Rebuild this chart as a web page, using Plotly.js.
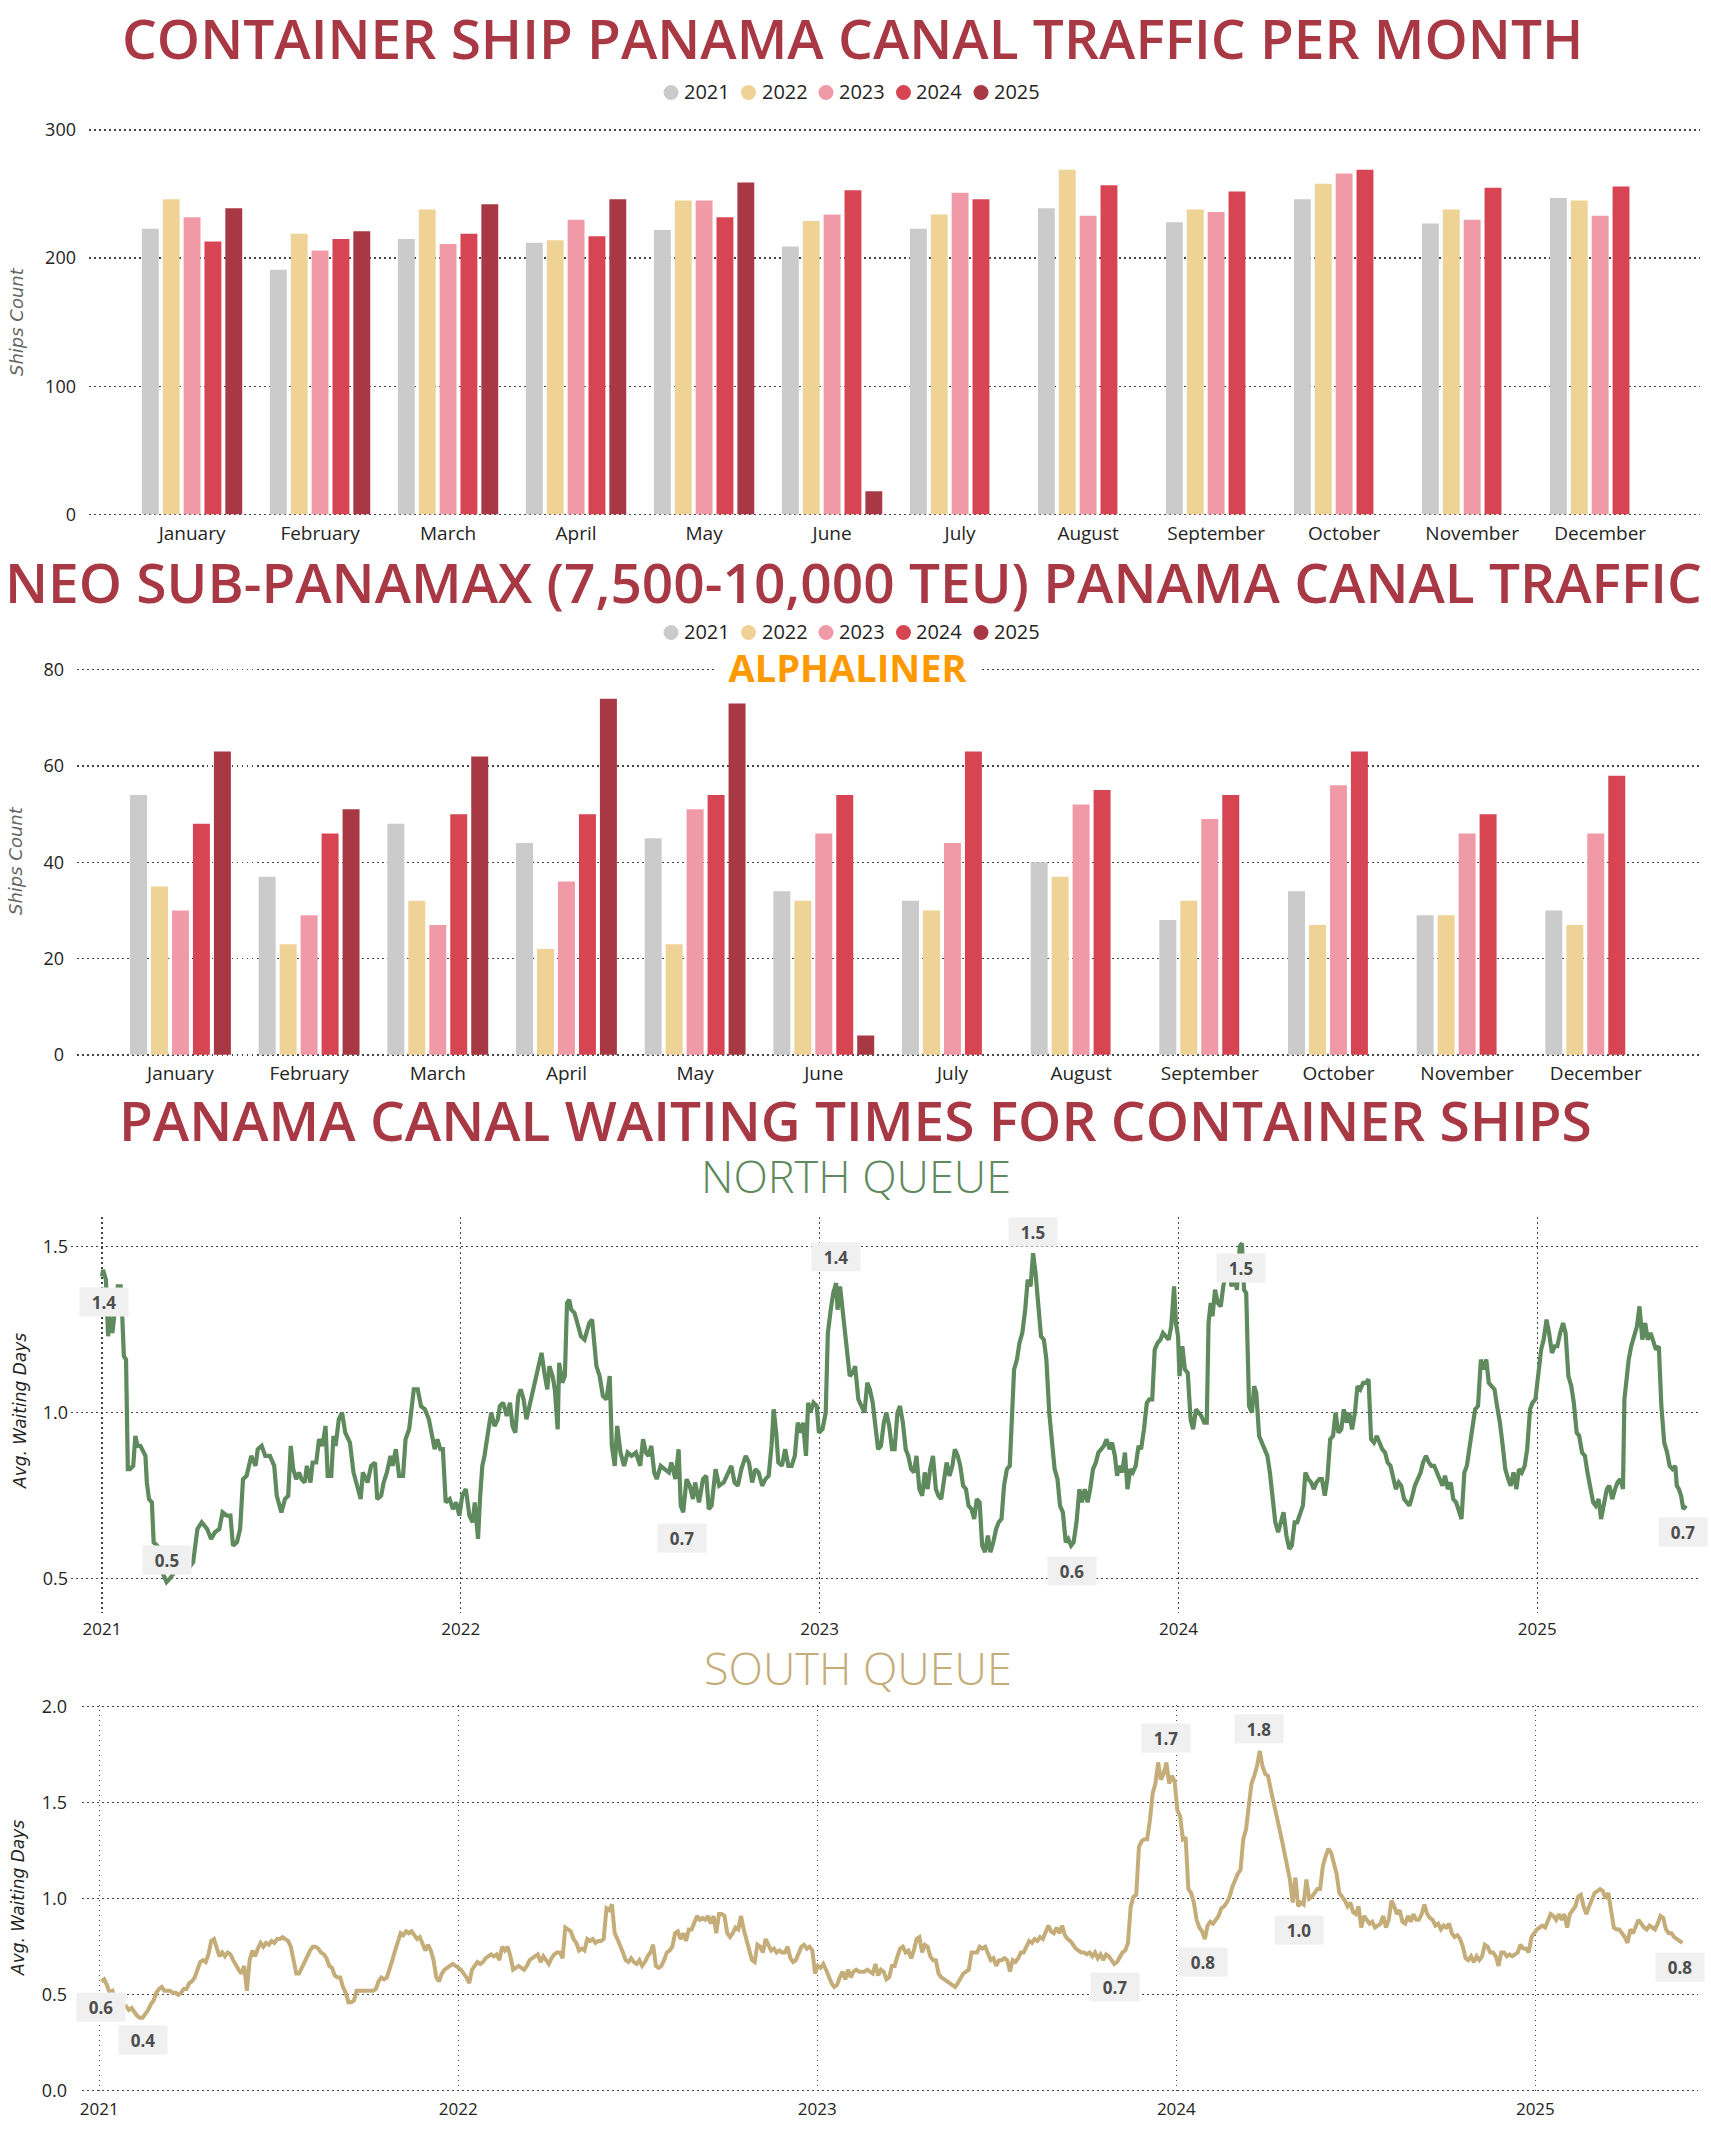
<!DOCTYPE html>
<html><head><meta charset="utf-8">
<script src="https://cdn.plot.ly/plotly-3.0.1.min.js"></script>
<style>html,body{margin:0;padding:0;background:#fff}#chart{width:1711px;height:2136px}</style>
</head><body><div id="chart"></div>
<script>
// ---------- DATA ----------
const months = ['January','February','March','April','May','June','July','August','September','October','November','December'];
const years = ['2021','2022','2023','2024','2025'];
const yearColors = ['#CBCBCB','#EFD296','#F09AA7','#D74553','#A83843'];

// Container ship transits per month
const ships2021 = [223,191,215,212,222,209,223,239,228,246,227,247];
const ships2022 = [246,219,238,214,245,229,234,269,238,258,238,245];
const ships2023 = [232,206,211,230,245,234,251,233,236,266,230,233];
const ships2024 = [213,215,219,217,232,253,246,257,252,269,255,256];
const ships2025 = [239,221,242,246,259,18,null,null,null,null,null,null];

// Neo sub-panamax transits per month
const neo2021 = [54,37,48,44,45,34,32,40,28,34,29,30];
const neo2022 = [35,23,32,22,23,32,30,37,32,27,29,27];
const neo2023 = [30,29,27,36,51,46,44,52,49,56,46,46];
const neo2024 = [48,46,50,50,54,54,63,55,54,63,50,58];
const neo2025 = [63,51,62,74,73,4,null,null,null,null,null,null];

// North queue: [years since 2021-01-01, avg waiting days]
const northPoints = [[0.000,1.41],[0.003,1.43],[0.011,1.40],[0.017,1.23],[0.021,1.29],[0.029,1.24],[0.034,1.29],[0.040,1.31],[0.044,1.38],[0.052,1.38],[0.055,1.33],[0.061,1.17],[0.067,1.16],[0.072,0.83],[0.078,0.83],[0.087,0.84],[0.093,0.93],[0.099,0.90],[0.107,0.90],[0.116,0.88],[0.121,0.87],[0.125,0.79],[0.131,0.74],[0.139,0.73],[0.144,0.61],[0.153,0.60],[0.162,0.59],[0.168,0.52],[0.180,0.49],[0.189,0.50],[0.202,0.52],[0.208,0.53],[0.217,0.57],[0.228,0.53],[0.240,0.53],[0.254,0.55],[0.266,0.65],[0.278,0.67],[0.293,0.65],[0.304,0.62],[0.315,0.64],[0.327,0.65],[0.336,0.70],[0.348,0.69],[0.358,0.69],[0.365,0.60],[0.376,0.61],[0.385,0.65],[0.393,0.80],[0.403,0.81],[0.416,0.87],[0.428,0.84],[0.434,0.89],[0.445,0.90],[0.455,0.87],[0.468,0.87],[0.480,0.84],[0.487,0.75],[0.500,0.70],[0.510,0.74],[0.519,0.75],[0.526,0.90],[0.533,0.83],[0.541,0.80],[0.549,0.82],[0.556,0.80],[0.565,0.79],[0.571,0.84],[0.581,0.79],[0.587,0.85],[0.597,0.85],[0.605,0.92],[0.614,0.90],[0.623,0.96],[0.629,0.81],[0.639,0.81],[0.645,0.93],[0.651,0.90],[0.660,0.98],[0.669,1.00],[0.678,0.94],[0.691,0.91],[0.701,0.82],[0.712,0.77],[0.721,0.74],[0.727,0.82],[0.740,0.79],[0.750,0.84],[0.761,0.85],[0.767,0.74],[0.778,0.75],[0.785,0.79],[0.794,0.82],[0.804,0.87],[0.810,0.84],[0.819,0.89],[0.828,0.81],[0.839,0.81],[0.846,0.92],[0.856,0.95],[0.862,1.02],[0.869,1.07],[0.880,1.07],[0.889,1.02],[0.900,1.01],[0.911,0.98],[0.920,0.93],[0.927,0.89],[0.935,0.92],[0.943,0.89],[0.950,0.89],[0.958,0.73],[0.969,0.74],[0.978,0.71],[0.987,0.73],[0.996,0.69],[1.004,0.75],[1.014,0.77],[1.024,0.69],[1.033,0.67],[1.039,0.73],[1.048,0.62],[1.054,0.75],[1.060,0.84],[1.066,0.87],[1.074,0.94],[1.080,0.97],[1.085,1.00],[1.094,0.96],[1.103,0.98],[1.109,1.02],[1.118,1.03],[1.128,0.99],[1.137,1.03],[1.144,0.96],[1.152,0.94],[1.160,1.05],[1.167,1.07],[1.175,1.04],[1.183,0.98],[1.192,1.02],[1.201,1.07],[1.210,1.11],[1.218,1.14],[1.225,1.18],[1.233,1.12],[1.241,1.07],[1.247,1.14],[1.256,1.11],[1.262,1.07],[1.270,0.95],[1.274,1.15],[1.283,1.09],[1.290,1.11],[1.296,1.33],[1.302,1.34],[1.308,1.31],[1.317,1.30],[1.326,1.27],[1.335,1.23],[1.345,1.22],[1.351,1.24],[1.358,1.27],[1.366,1.28],[1.372,1.22],[1.378,1.14],[1.387,1.11],[1.396,1.05],[1.406,1.04],[1.415,1.11],[1.421,0.90],[1.429,0.84],[1.436,0.96],[1.445,0.88],[1.455,0.84],[1.465,0.88],[1.476,0.87],[1.488,0.88],[1.500,0.84],[1.508,0.92],[1.516,0.88],[1.523,0.87],[1.531,0.90],[1.539,0.82],[1.546,0.80],[1.557,0.84],[1.568,0.83],[1.580,0.82],[1.587,0.85],[1.598,0.80],[1.607,0.89],[1.613,0.72],[1.620,0.70],[1.629,0.80],[1.638,0.78],[1.647,0.74],[1.653,0.79],[1.664,0.73],[1.675,0.80],[1.684,0.81],[1.691,0.71],[1.699,0.72],[1.710,0.83],[1.720,0.78],[1.733,0.79],[1.745,0.82],[1.754,0.84],[1.763,0.79],[1.772,0.78],[1.782,0.83],[1.794,0.87],[1.803,0.85],[1.812,0.79],[1.821,0.83],[1.830,0.82],[1.840,0.78],[1.849,0.80],[1.858,0.81],[1.866,0.90],[1.872,1.01],[1.879,0.94],[1.885,0.85],[1.895,0.84],[1.904,0.89],[1.913,0.84],[1.922,0.84],[1.931,0.87],[1.939,0.97],[1.947,0.94],[1.954,0.97],[1.962,0.87],[1.968,1.03],[1.974,1.00],[1.983,1.03],[1.992,1.02],[1.998,0.94],[2.008,0.95],[2.017,1.00],[2.023,1.24],[2.031,1.31],[2.038,1.36],[2.046,1.39],[2.050,1.31],[2.057,1.38],[2.066,1.29],[2.076,1.18],[2.084,1.11],[2.092,1.12],[2.099,1.14],[2.108,1.04],
[2.125,1.00],[2.133,1.09],[2.140,1.07],[2.148,1.03],[2.156,0.95],[2.163,0.89],[2.171,0.90],[2.179,0.97],[2.186,1.00],[2.194,0.96],[2.202,0.89],[2.209,0.89],[2.217,1.00],[2.224,1.02],[2.232,0.97],[2.240,0.89],[2.247,0.87],[2.255,0.83],[2.263,0.82],[2.270,0.87],[2.278,0.77],[2.286,0.75],[2.293,0.82],[2.301,0.77],[2.308,0.83],[2.316,0.87],[2.324,0.77],[2.331,0.75],[2.339,0.74],[2.347,0.81],[2.354,0.85],[2.362,0.81],[2.370,0.84],[2.377,0.89],[2.385,0.87],[2.392,0.84],[2.400,0.78],[2.408,0.77],[2.415,0.72],[2.423,0.71],[2.431,0.68],[2.438,0.74],[2.446,0.73],[2.453,0.60],[2.461,0.58],[2.469,0.63],[2.476,0.58],[2.484,0.61],[2.492,0.65],[2.499,0.67],[2.507,0.68],[2.514,0.78],[2.522,0.83],[2.530,0.84],[2.537,1.03],[2.542,1.13],[2.550,1.16],[2.557,1.21],[2.565,1.24],[2.573,1.31],[2.580,1.40],[2.588,1.38],[2.595,1.48],[2.602,1.42],[2.609,1.33],[2.617,1.23],[2.625,1.22],[2.632,1.16],[2.640,1.00],[2.647,0.93],[2.655,0.83],[2.663,0.80],[2.670,0.72],[2.678,0.70],[2.686,0.61],[2.693,0.62],[2.701,0.60],[2.708,0.61],[2.716,0.67],[2.724,0.77],[2.731,0.73],[2.739,0.77],[2.747,0.73],[2.754,0.77],[2.762,0.83],[2.770,0.85],[2.777,0.88],[2.785,0.89],[2.792,0.90],[2.800,0.92],[2.808,0.89],[2.815,0.91],[2.823,0.87],[2.829,0.81],[2.835,0.84],[2.843,0.82],[2.851,0.88],[2.858,0.77],[2.866,0.83],[2.873,0.82],[2.881,0.84],[2.889,0.90],[2.896,0.89],[2.904,0.95],[2.912,1.03],[2.919,1.04],[2.927,1.04],[2.934,1.19],[2.942,1.21],[2.950,1.22],[2.957,1.24],[2.965,1.23],[2.973,1.22],[2.980,1.26],[2.988,1.38],[2.993,1.27],[2.999,1.23],[3.003,1.11],[3.011,1.20],[3.018,1.13],[3.026,1.12],[3.034,0.98],[3.041,0.95],[3.049,1.01],[3.057,1.00],[3.064,0.99],[3.072,0.97],[3.079,0.97],[3.084,1.27],[3.090,1.33],[3.095,1.29],[3.102,1.37],[3.110,1.33],[3.118,1.32],[3.125,1.38],[3.133,1.42],[3.140,1.44],[3.148,1.38],[3.156,1.41],[3.163,1.37],[3.171,1.50],[3.177,1.51],[3.183,1.37],[3.189,1.36],[3.197,1.02],[3.205,1.00],[3.211,1.08],[3.217,1.06],[3.225,0.93],[3.232,0.91],
[3.240,0.89],[3.248,0.87],[3.255,0.82],[3.263,0.75],[3.270,0.67],[3.278,0.64],[3.286,0.67],[3.293,0.70],[3.301,0.63],[3.309,0.59],[3.316,0.60],[3.324,0.67],[3.331,0.67],[3.339,0.70],[3.347,0.72],[3.354,0.82],[3.362,0.80],[3.370,0.79],[3.377,0.77],[3.385,0.79],[3.393,0.80],[3.400,0.80],[3.408,0.75],[3.415,0.80],[3.423,0.92],[3.431,0.93],[3.438,1.00],[3.446,0.94],[3.454,0.95],[3.461,1.01],[3.469,0.97],[3.476,1.00],[3.484,0.95],[3.492,1.00],[3.499,1.08],[3.507,1.07],[3.515,1.09],[3.522,1.09],[3.530,1.10],[3.537,0.92],[3.545,0.91],[3.553,0.93],[3.560,0.91],[3.568,0.89],[3.576,0.88],[3.583,0.85],[3.591,0.84],[3.598,0.80],[3.606,0.77],[3.614,0.79],[3.621,0.78],[3.629,0.74],[3.636,0.73],[3.644,0.72],[3.652,0.75],[3.659,0.78],[3.667,0.80],[3.675,0.82],[3.682,0.85],[3.690,0.87],[3.698,0.85],[3.705,0.84],[3.713,0.84],[3.720,0.82],[3.728,0.80],[3.736,0.78],[3.743,0.81],[3.751,0.77],[3.759,0.79],[3.766,0.74],[3.774,0.73],[3.781,0.71],[3.789,0.68],[3.797,0.82],[3.804,0.84],[3.812,0.90],[3.820,0.95],[3.827,1.01],[3.835,1.02],[3.843,1.16],[3.850,1.13],[3.858,1.16],[3.865,1.09],[3.873,1.08],[3.881,1.07],[3.888,1.02],[3.896,0.97],[3.904,0.90],[3.911,0.83],[3.919,0.80],[3.926,0.78],[3.934,0.82],[3.942,0.77],[3.949,0.83],[3.957,0.82],[3.965,0.84],[3.972,0.89],[3.980,1.01],[3.987,1.03],[3.995,1.04],[4.003,1.11],[4.011,1.19],[4.018,1.22],[4.026,1.28],[4.033,1.24],[4.041,1.18],[4.049,1.20],[4.056,1.20],[4.064,1.24],[4.072,1.27],[4.079,1.24],[4.087,1.11],[4.095,1.08],[4.102,1.03],[4.110,0.94],[4.117,0.93],[4.125,0.88],[4.133,0.87],[4.140,0.82],[4.148,0.78],[4.156,0.73],[4.163,0.72],[4.171,0.74],[4.178,0.68],[4.186,0.73],[4.194,0.77],[4.201,0.78],[4.209,0.74],[4.217,0.77],[4.224,0.79],[4.232,0.80],[4.239,0.77],[4.243,1.04],[4.247,1.09],[4.255,1.16],[4.262,1.20],[4.270,1.23],[4.278,1.26],[4.285,1.32],[4.293,1.22],[4.301,1.27],[4.308,1.22],[4.316,1.24],[4.323,1.22],[4.331,1.19],[4.339,1.20],[4.346,1.02],[4.354,0.91],[4.362,0.88],[4.369,0.84],[4.377,0.83],[4.385,0.84],[4.389,0.78],[4.395,0.77],[4.401,0.75],[4.407,0.71],[4.415,0.72]];

// South queue: regularly sampled (every ~2.8 days from 2021-01-03)
const southStartYears = 0.0061;   // years after 2021-01-01
const southStepYears = 0.007645;  // sampling step in years
const southValues = [0.57,0.58,0.55,0.51,0.52,0.48,0.47,0.45,0.44,0.44,0.42,0.43,0.41,0.39,0.38,0.38,0.40,0.42,0.45,0.47,0.51,0.53,0.54,0.52,0.52,0.52,0.51,0.51,0.50,0.51,0.53,0.53,0.56,0.57,0.59,0.63,0.67,0.68,0.67,0.71,0.78,0.79,0.75,0.70,0.72,0.70,0.72,0.71,0.68,0.65,0.63,0.61,0.65,0.52,0.68,0.73,0.70,0.74,0.77,0.75,0.77,0.76,0.78,0.77,0.79,0.79,0.80,0.79,0.78,0.75,0.68,0.61,0.61,0.64,0.68,0.71,0.73,0.75,0.75,0.74,0.72,0.71,0.69,0.65,0.64,0.60,0.59,0.59,0.54,0.51,0.46,0.46,0.47,0.52,0.52,0.52,0.52,0.52,0.52,0.52,0.53,0.57,0.59,0.58,0.59,0.63,0.68,0.73,0.77,0.82,0.81,0.83,0.82,0.83,0.81,0.79,0.80,0.77,0.73,0.76,0.73,0.68,0.59,0.57,0.61,0.63,0.64,0.65,0.66,0.65,0.64,0.63,0.61,0.59,0.56,0.63,0.65,0.67,0.66,0.67,0.69,0.70,0.71,0.70,0.71,0.68,0.75,0.73,0.75,0.70,0.63,0.64,0.65,0.64,0.63,0.65,0.68,0.69,0.70,0.71,0.67,0.70,0.68,0.66,0.69,0.71,0.72,0.72,0.69,0.85,0.84,0.83,0.79,0.77,0.73,0.74,0.73,0.79,0.78,0.79,0.77,0.78,0.78,0.79,0.95,0.94,0.97,0.82,0.79,0.76,0.72,0.68,0.67,0.69,0.67,0.66,0.68,0.65,0.67,0.70,0.72,0.76,0.65,0.64,0.65,0.68,0.72,0.73,0.75,0.82,0.83,0.79,0.82,0.78,0.84,0.84,0.87,0.91,0.89,0.90,0.89,0.91,0.87,0.91,0.82,0.92,0.92,0.91,0.82,0.80,0.82,0.85,0.84,0.91,0.84,0.79,0.73,0.68,0.67,0.76,0.75,0.72,0.79,0.76,0.73,0.74,0.72,0.73,0.72,0.72,0.75,0.69,0.67,0.68,0.72,0.75,0.76,0.74,0.75,0.73,0.61,0.65,0.64,0.66,0.63,0.59,0.56,0.54,0.55,0.59,0.62,0.58,0.63,0.59,0.62,0.63,0.62,
0.62,0.62,0.63,0.62,0.61,0.66,0.60,0.63,0.62,0.58,0.59,0.65,0.65,0.70,0.74,0.75,0.72,0.73,0.69,0.73,0.79,0.80,0.72,0.76,0.75,0.70,0.68,0.68,0.61,0.59,0.58,0.57,0.56,0.55,0.54,0.56,0.59,0.61,0.62,0.63,0.72,0.72,0.72,0.75,0.74,0.75,0.71,0.68,0.69,0.65,0.68,0.68,0.69,0.68,0.62,0.68,0.67,0.69,0.72,0.72,0.75,0.78,0.77,0.79,0.78,0.80,0.79,0.82,0.86,0.83,0.82,0.85,0.82,0.86,0.81,0.79,0.78,0.76,0.74,0.73,0.72,0.72,0.71,0.72,0.70,0.72,0.69,0.71,0.68,0.71,0.70,0.68,0.66,0.67,0.70,0.72,0.73,0.77,0.96,1.01,1.02,1.27,1.30,1.31,1.31,1.41,1.55,1.60,1.71,1.62,1.65,1.71,1.60,1.64,1.61,1.46,1.43,1.31,1.32,1.05,1.03,0.98,0.89,0.85,0.83,0.79,0.86,0.88,0.87,0.89,0.91,0.95,0.96,0.98,1.01,1.06,1.10,1.13,1.15,1.31,1.36,1.50,1.60,1.64,1.69,1.77,1.69,1.65,1.64,1.57,1.51,1.43,1.39,1.31,1.24,1.17,1.10,0.98,1.11,0.96,0.98,0.97,1.10,1.00,1.01,1.03,1.05,1.05,1.17,1.22,1.26,1.24,1.18,1.13,1.03,1.01,0.99,0.96,0.98,0.93,0.92,0.96,0.85,0.91,0.89,0.87,0.88,0.85,0.86,0.87,0.91,0.85,0.89,0.99,0.96,0.92,0.94,0.88,0.87,0.91,0.88,0.92,0.89,0.89,0.92,0.97,0.92,0.90,0.89,0.86,0.87,0.84,0.86,0.85,0.87,0.82,0.80,0.81,0.79,0.75,0.69,0.68,0.70,0.67,0.70,0.68,0.70,0.76,0.75,0.72,0.72,0.70,0.65,0.72,0.72,0.70,0.71,0.70,0.71,0.72,0.76,0.74,0.74,0.72,0.80,0.82,0.84,0.85,0.86,0.85,0.89,0.92,0.91,0.89,0.92,0.89,0.92,0.85,0.92,0.94,0.96,1.01,1.02,0.96,0.92,0.96,1.00,1.03,1.04,1.05,1.04,1.00,1.03,0.92,0.85,0.84,0.84,0.82,0.80,0.77,0.84,0.82,0.85,0.89,0.87,0.85,0.84,0.86,0.85,0.84,0.87,0.91,0.90,0.84,0.82,0.82,0.80,0.79,0.78,0.77];

// Data labels shown on the line charts: [years since 2021, label position value, text]
const northLabels = [[0.006,1.333,'1.4'],[0.181,0.556,'0.5'],[1.617,0.623,'0.7'],[2.046,1.468,'1.4'],[2.595,1.544,'1.5'],[2.703,0.523,'0.6'],[3.174,1.435,'1.5'],[4.406,0.641,'0.7']];
const southLabels = [[0.006,0.4375,'0.6'],[0.121,0.264,'0.4'],[2.828,0.542,'0.7'],[2.970,1.835,'1.7'],[3.074,0.672,'0.8'],[3.230,1.882,'1.8'],[3.341,0.837,'1.0'],[4.403,0.643,'0.8']];

const yearTicks = [2021,2022,2023,2024,2025];

// ---------- LAYOUT HELPERS ----------
const W = 1711, H = 2136;
const xd = (a,b) => [a/W, b/W];
const yd = (top,bottom) => [1-bottom/H, 1-top/H];
const px = v => v/W;
const py = v => 1 - v/H;

const FONT = 'Open Sans, Noto Sans, DejaVu Sans, sans-serif';
const TICK = '#252423';
const GRID = '#444444';
const DASH = '1.5px,3.5px';
const titleRed = '#A83843';
const green = '#5E8A5E';
const tan = '#C5AD79';

const shipsSeries = [ships2021, ships2022, ships2023, ships2024, ships2025];
const neoSeries = [neo2021, neo2022, neo2023, neo2024, neo2025];

const traces = [];
shipsSeries.forEach((s,i) => traces.push({type:'bar', x:months, y:s, name:years[i], marker:{color:yearColors[i]}, xaxis:'x', yaxis:'y', showlegend:false, hoverinfo:'skip'}));
neoSeries.forEach((s,i) => traces.push({type:'bar', x:months, y:s, name:years[i], marker:{color:yearColors[i]}, xaxis:'x2', yaxis:'y2', showlegend:false, hoverinfo:'skip'}));
traces.push({type:'scatter', mode:'lines', x:northPoints.map(p=>2021+p[0]), y:northPoints.map(p=>p[1]), line:{color:green, width:4.2}, xaxis:'x3', yaxis:'y3', showlegend:false, hoverinfo:'skip'});
traces.push({type:'scatter', mode:'lines', x:southValues.map((v,i)=>2021+southStartYears+i*southStepYears), y:southValues, line:{color:tan, width:4}, xaxis:'x4', yaxis:'y4', showlegend:false, hoverinfo:'skip'});

const catX = (dom, rng) => ({domain:dom, type:'category', categoryorder:'array', categoryarray:months, range:rng, showgrid:false, zeroline:false, showline:false, ticks:'', tickfont:{family:FONT, size:19, color:TICK}, ticklabelstandoff:4, fixedrange:true});
const valY = (dom, rng, tv, tt, standoff) => ({domain:dom, range:rng, tickvals:tv, ticktext:tt, showgrid:true, gridcolor:GRID, griddash:DASH, gridwidth:1.3, zeroline:false, showline:false, ticks:'', tickfont:{family:FONT, size:18, color:TICK}, ticklabelstandoff:standoff, fixedrange:true});
const yearX = (dom, rng) => ({domain:dom, range:rng, tickvals:yearTicks, ticktext:yearTicks.map(String), showgrid:true, gridcolor:GRID, griddash:DASH, gridwidth:1.3, zeroline:false, showline:false, ticks:'', tickfont:{family:FONT, size:17, color:TICK}, ticklabelstandoff:4, fixedrange:true});

const annotations = [];
const shapes = [];
const addText = (o) => annotations.push(Object.assign({xref:'paper', yref:'paper', showarrow:false, xanchor:'center', yanchor:'middle'}, o));

// Legends (circle swatch + year), one row per bar chart
const LEG_X0 = 671, LEG_PITCH = 77.5, LEG_R = 7.5;
const addLegend = (yc) => years.forEach((y,i) => {
  const cx = LEG_X0 + i*LEG_PITCH;
  shapes.push({type:'circle', xref:'paper', yref:'paper', x0:px(cx-LEG_R), x1:px(cx+LEG_R), y0:py(yc+1.5+LEG_R), y1:py(yc+1.5-LEG_R), fillcolor:yearColors[i], line:{width:0}});
  addText({text:y, x:px(cx+11), y:py(yc), xanchor:'left', font:{family:FONT, size:20, color:TICK}});
});
addLegend(91);
addLegend(631);

addText({text:'CONTAINER SHIP PANAMA CANAL TRAFFIC PER MONTH', x:px(852), y:py(38), font:{family:FONT, size:55, weight:600, color:titleRed}});
addText({text:'NEO SUB-PANAMAX (7,500-10,000 TEU) PANAMA CANAL TRAFFIC', x:px(853), y:py(581), font:{family:FONT, size:55, weight:600, color:titleRed}});
addText({text:'PANAMA CANAL WAITING TIMES FOR CONTAINER SHIPS', x:px(855), y:py(1119), height:52, font:{family:FONT, size:55, weight:600, color:titleRed}});
addText({text:'NORTH QUEUE', x:px(856), y:py(1175), height:58, font:{family:FONT, size:45, weight:300, color:green}});
addText({text:'SOUTH QUEUE', x:px(858), y:py(1667), font:{family:FONT, size:45, weight:300, color:tan}});
addText({text:'ALPHALINER', x:px(848), y:py(667), bgcolor:'#FFFFFF', width:264, height:30, borderpad:0, font:{family:FONT, size:38, weight:700, color:'#FF9900'}});
addText({text:'Ships Count', x:px(17), y:py(322), textangle:-90, font:{family:'DejaVu Sans, sans-serif', size:18, style:'italic', color:'#666666'}});
addText({text:'Ships Count', x:px(16), y:py(861), textangle:-90, font:{family:'DejaVu Sans, sans-serif', size:18, style:'italic', color:'#666666'}});
addText({text:'Avg. Waiting Days', x:px(20), y:py(1411), textangle:-90, font:{family:'DejaVu Sans, sans-serif', size:17, style:'italic', color:TICK}});
addText({text:'Avg. Waiting Days', x:px(18), y:py(1898), textangle:-90, font:{family:'DejaVu Sans, sans-serif', size:17, style:'italic', color:TICK}});

const addLabels = (list, xr, yr) => list.forEach(l => annotations.push({xref:xr, yref:yr, x:2021+l[0], y:l[1], text:l[2], showarrow:false, xanchor:'center', yanchor:'middle', bgcolor:'#F0F0F0', width:48, height:28, borderpad:0, font:{family:FONT, size:17, weight:700, color:'#4D4D4D'}}));
addLabels(northLabels, 'x3', 'y3');
addLabels(southLabels, 'x4', 'y4');

const layout = {
  width:W, height:H, margin:{l:0,r:0,t:0,b:0}, paper_bgcolor:'#FFFFFF', plot_bgcolor:'#FFFFFF',
  barmode:'group', bargap:0.185, bargroupgap:0.19, showlegend:false,
  font:{family:FONT, color:TICK},
  xaxis: Object.assign(catX(xd(89,1700), [-0.805, 11.78]), {anchor:'y'}),
  yaxis: Object.assign(valY(yd(128,515.6), [-1, 301.6], [0,100,200,300], ['0','100','200','300'], 12), {anchor:'x'}),
  xaxis2: Object.assign(catX(xd(77,1700), [-0.804, 11.81]), {anchor:'y2'}),
  yaxis2: Object.assign(valY(yd(668,1056.3), [-0.3, 80.37], [0,20,40,60,80], ['0','20','40','60','80'], 12), {anchor:'x2'}),
  xaxis3: Object.assign(yearX(xd(71,1700), [2020.9136, 2025.4537]), {anchor:'y3'}),
  yaxis3: Object.assign(valY(yd(1217,1613), [0.397, 1.589], [0.5,1.0,1.5], ['0.5','1.0','1.5'], 2), {anchor:'x3'}),
  xaxis4: Object.assign(yearX(xd(82,1698), [2020.952, 2025.453]), {anchor:'y4'}),
  yaxis4: Object.assign(valY(yd(1704.8,2092.6), [-0.01, 2.01], [0,0.5,1,1.5,2], ['0.0','0.5','1.0','1.5','2.0'], 14), {anchor:'x4'}),
  shapes: shapes,
  annotations: annotations
};

Plotly.newPlot('chart', traces, layout, {displayModeBar:false, staticPlot:true});
</script>
</body></html>
